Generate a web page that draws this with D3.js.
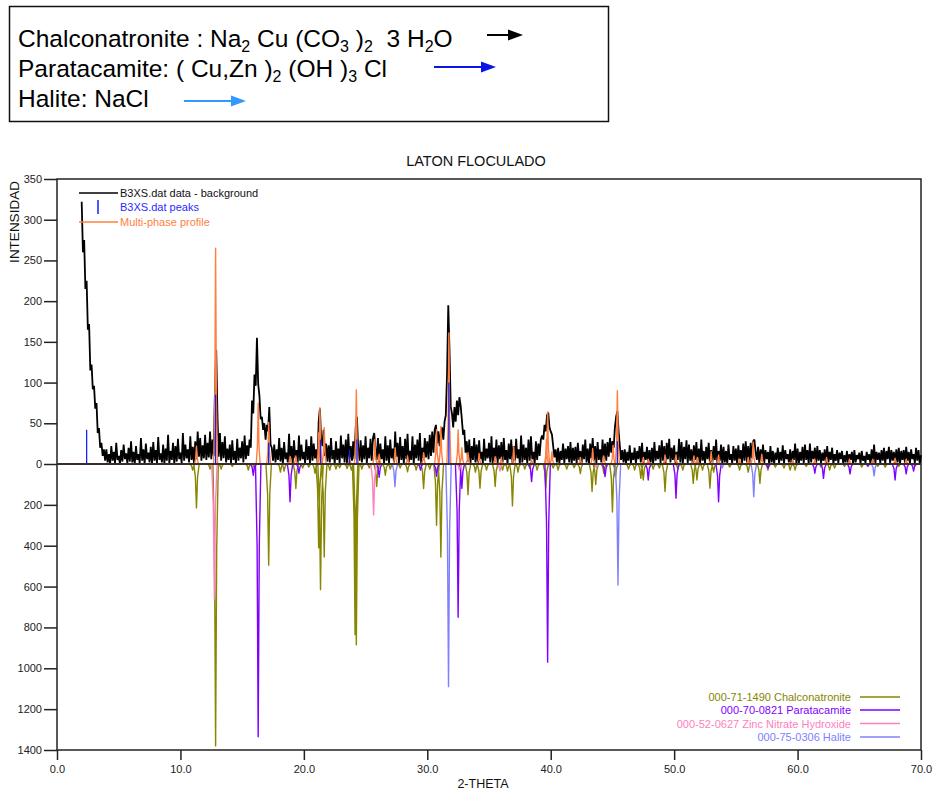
<!DOCTYPE html>
<html>
<head>
<meta charset="utf-8">
<script src="https://cdn.jsdelivr.net/npm/d3@7"></script>
<style>
  body { margin: 0; background: #fff; }
  svg text { font-family: "Liberation Sans", Arial, Helvetica, sans-serif; }
</style>
</head>
<body>
<svg id="chart" width="936" height="794"></svg>
<script>
// ---- measured pattern (data - background), 2-theta from 2.0 in 0.1 steps ----
const thetaStart = 2.0;
const thetaStep = 0.1;
const measured = [
  322,260,275,215,225,165,172,115,122,92,96,68,75,38,44,20,26,10,18,4,
  18,2,12,0,22,4,15,1,26,5,10,0,17,3,24,6,13,1,20,3,
  28,2,15,0,22,5,12,1,32,4,18,0,25,6,14,2,21,0,27,4,
  17,1,33,5,13,2,24,0,19,4,36,1,16,5,26,0,22,3,31,6,
  14,1,38,4,24,7,18,2,34,5,21,0,28,6,40,9,32,4,23,7,
  36,5,26,8,40,6,30,10,95,140,60,9,38,4,27,7,34,2,19,5,
  24,1,29,5,16,0,31,4,20,7,28,2,35,6,23,10,30,20,78,62,
  110,96,155,98,84,55,58,42,50,30,48,40,70,24,20,4,24,2,18,5,
  32,3,20,0,27,6,14,2,37,5,22,1,29,7,17,0,35,4,24,6,
  15,1,30,5,22,0,34,4,25,7,18,2,52,68,30,22,42,10,25,3,
  23,2,32,6,17,0,28,5,19,1,35,7,24,2,30,0,37,6,22,4,
  28,6,45,58,20,4,29,2,23,6,34,1,20,7,31,4,32,38,18,5,
  32,2,25,6,18,0,34,4,23,1,30,7,19,2,40,9,26,0,33,5,
  22,1,31,6,37,2,16,5,34,0,24,7,30,4,38,1,20,6,32,8,
  28,6,36,10,40,14,42,48,25,40,22,38,45,30,52,60,110,195,140,70,
  62,45,70,52,78,60,82,72,55,36,42,14,28,3,30,1,22,5,32,2,
  24,0,29,6,15,1,31,4,19,7,26,2,34,0,20,5,30,1,23,6,
  27,2,32,5,17,0,25,6,30,1,22,4,31,7,18,0,35,2,24,5,
  20,1,30,4,34,6,15,0,28,5,25,10,30,35,30,48,40,60,63,45,
  40,36,22,8,18,2,20,0,16,5,25,1,19,6,22,2,27,0,20,4,
  21,1,26,5,16,0,24,6,30,2,19,0,25,7,32,4,22,1,27,5,
  18,2,30,6,25,4,27,9,32,14,28,20,45,58,65,40,22,5,17,2,
  18,0,15,4,23,1,14,5,20,0,16,6,22,2,26,0,15,5,21,1,
  17,2,20,0,27,4,16,6,23,1,29,4,22,0,26,6,31,2,20,5,
  23,1,15,5,31,2,27,0,21,6,29,1,24,4,18,0,23,5,27,2,
  19,0,30,4,16,1,21,6,26,0,17,2,22,5,30,1,16,4,24,0,
  21,2,16,0,24,5,12,1,22,4,19,0,23,6,17,1,25,4,28,2,
  22,1,26,7,28,30,15,5,21,0,18,4,24,1,17,6,15,0,22,2,
  16,0,14,5,20,1,15,4,23,0,17,6,12,2,18,0,16,5,25,1,
  19,0,15,4,21,1,24,5,17,0,25,2,16,6,20,0,22,4,17,1,
  14,4,18,0,22,2,15,5,20,0,12,4,17,1,14,6,16,0,11,2,
  16,1,12,5,15,0,17,2,11,6,14,0,16,4,10,1,15,5,12,0,
  18,2,24,0,15,5,14,1,17,4,20,0,16,6,21,1,17,4,15,0,
  18,2,20,0,16,5,17,1,21,4,15,0,18,6,12,1,20,4,17,0,
  11
];

// ---- fitted multi-phase profile: [2-theta, intensity] ----
const profilePeaks = [
  [11.3,22],[12.85,265],[16.3,75],[17.15,51],[18.9,9],[19.35,10],[21.2,38],[21.3,69],
  [21.65,45],[23.7,8],[24.25,91],[25.75,30],[26.1,12],[27.4,20],[28.4,10],[29.7,14],
  [30.75,42],[31.1,46],[31.75,161],[32.5,42],[32.8,20],[33.3,14],[34.2,13],[35.5,9],
  [36.0,8],[37.0,21],[38.45,6],[39.65,30],[39.75,64],[40.1,15],[42.4,8],[43.4,19],
  [44.3,10],[45.05,23],[45.4,90],[47.5,8],[47.9,6],[49.26,11],[50.15,11],[51.6,10],
  [51.9,8],[53.0,15],[53.6,11],[55.3,6],[56.0,8],[56.4,27],[57.1,12],[59.6,6],
  [61.4,6],[62.35,8],[64.2,6],[66.1,6],[67.9,7],[68.8,6]
];

// ---- located peaks: [2-theta, intensity] ----
const peakSticks = [
  [2.4,42],[12.85,85],[17.15,26],[21.35,30],[23.7,17],[24.3,30],[31.75,100],[45.4,28]
];

// ---- reference patterns (drawn downward): [2-theta, intensity] ----
const chalconatronite = [
  [10.99,30],[11.3,215],[12.4,25],[12.85,1380],[13.3,25],[14.2,12],[15.5,30],[16.0,20],
  [17.15,495],[18.1,40],[18.4,35],[19.35,120],[19.9,20],[20.4,15],[20.9,45],[21.2,410],
  [21.35,615],[21.65,455],[22.1,30],[22.6,25],[22.9,18],[23.5,22],[23.85,30],[24.15,835],
  [24.25,885],[24.7,25],[25.3,20],[25.9,110],[26.6,55],[27.0,25],[27.8,20],[28.4,38],
  [29.1,30],[29.7,120],[30.2,25],[30.75,300],[31.1,455],[33.3,150],[33.9,40],[34.27,118],
  [34.8,30],[35.5,110],[36.1,30],[36.5,35],[36.9,205],[37.35,40],[37.9,25],[38.3,20],
  [38.9,30],[39.6,118],[40.2,20],[40.6,30],[41.3,25],[41.9,18],[42.4,47],[43.35,135],
  [43.65,100],[44.3,45],[45.0,235],[45.25,62],[46.3,25],[46.8,30],[47.3,70],[47.5,78],
  [48.3,25],[48.8,20],[49.26,135],[50.3,25],[50.7,30],[51.55,95],[51.85,78],[52.3,30],
  [52.9,118],[53.2,40],[54.5,15],[55.3,30],[56.0,40],[56.95,95],[57.6,30],[58.2,15],
  [58.9,20],[59.4,30],[59.8,30],[60.7,12],[61.9,15],[62.6,30],[63.0,20],[63.8,12],
  [65.2,15],[66.5,12],[67.1,15],[68.2,12],[69.5,10]
];
const paratacamite = [
  [15.9,55],[16.3,1335],[18.88,185],[19.6,45],[26.1,65],[29.45,30],[30.75,60],[32.5,750],
  [32.8,120],[38.45,86],[39.75,970],[44.4,62],[47.9,78],[50.15,168],[53.6,185],[57.6,20],
  [61.4,45],[62.1,70],[64.25,48],[65.7,12],[67.9,78],[68.8,48],[69.4,35]
];
const zincNitrateHydroxide = [
  [12.75,660],[25.65,250],[32.6,30],[35.9,35],[43.7,20]
];
const halite = [
  [27.38,111],[31.72,1090],[45.45,592],[53.9,18],[56.45,160],[66.2,58]
];

const phaseNames = [
  "000-71-1490 Chalconatronite",
  "000-70-0821 Paratacamite",
  "000-52-0627 Zinc Nitrate Hydroxide",
  "000-75-0306 Halite"
];
const phaseColors = ["#868600", "#8000ff", "#ff80c0", "#8080ff"];
const phaseData = [chalconatronite, paratacamite, zincNitrateHydroxide, halite];

const xTicks = [0, 10, 20, 30, 40, 50, 60, 70];
const upperTicks = [0, 50, 100, 150, 200, 250, 300, 350];
const lowerTicks = [200, 400, 600, 800, 1000, 1200, 1400];

// ---- scales ----
const svg = d3.select("#chart");
const x = d3.scaleLinear().domain([0, 70]).range([57, 921]);
const yUp = d3.scaleLinear().domain([0, 350]).range([464, 179]);
const yDown = d3.scaleLinear().domain([0, 1400]).range([464, 750]);

// a peak list becomes one continuous trace of narrow spikes
function spikeTrace(peaks, halfWidth) {
  const pts = [[0, 0]];
  peaks.slice().sort((a, b) => a[0] - b[0]).forEach(([p, h]) => {
    pts.push([p - halfWidth, 0], [p - halfWidth * 0.4, h * 0.3], [p, h],
             [p + halfWidth * 0.4, h * 0.3], [p + halfWidth, 0]);
  });
  pts.push([70, 0]);
  return pts;
}

// ---- formula box ----
const formulas = [
  { y: 47, parts: ["Chalconatronite : Na", ["2"], " Cu (CO", ["3"], " )", ["2"], "  3 H", ["2"], "O"],
    arrow: [487, 523, 35], color: "#000000" },
  { y: 77, parts: ["Paratacamite: ( Cu,Zn )", ["2"], " (OH )", ["3"], " Cl"],
    arrow: [434, 496, 67], color: "#0a14e6" },
  { y: 107, parts: ["Halite: NaCl"],
    arrow: [184, 246, 101], color: "#3399ff" }
];
const box = svg.append("g");
box.append("rect").attr("x", 9.5).attr("y", 6.5).attr("width", 599).attr("height", 115)
  .attr("fill", "none").attr("stroke", "#111").attr("stroke-width", 1.5);
formulas.forEach(f => {
  const t = box.append("text").attr("x", 18).attr("y", f.y)
    .attr("font-size", 24.5).attr("fill", "#000").style("white-space", "pre");
  let low = false;
  f.parts.forEach(p => {
    if (Array.isArray(p)) {
      t.append("tspan").attr("font-size", 16).attr("dy", low ? 0 : 5).text(p[0]);
      low = true;
    } else {
      t.append("tspan").attr("dy", low ? -5 : 0).text(p);
      low = false;
    }
  });
  const [x0, x1, ay] = f.arrow;
  box.append("line").attr("x1", x0).attr("x2", x1 - 12).attr("y1", ay).attr("y2", ay)
    .attr("stroke", f.color).attr("stroke-width", 2);
  box.append("path")
    .attr("d", `M${x1 - 15},${ay - 5.5} L${x1},${ay} L${x1 - 15},${ay + 5.5} Z`)
    .attr("fill", f.color);
});

// ---- titles ----
svg.append("text").attr("x", 476).attr("y", 166).attr("text-anchor", "middle")
  .attr("font-size", 14.5).attr("fill", "#111").text("LATON FLOCULADO");
svg.append("text").attr("x", 483).attr("y", 788).attr("text-anchor", "middle")
  .attr("font-size", 12.5).attr("fill", "#111").text("2-THETA");
svg.append("text").attr("transform", "translate(19,222) rotate(-90)").attr("text-anchor", "middle")
  .attr("font-size", 13.5).attr("fill", "#111").text("INTENSIDAD");

// ---- axes ----
const axUp = svg.append("g").attr("transform", "translate(57,0)")
  .call(d3.axisLeft(yUp).tickValues(upperTicks).tickFormat(d3.format("d")).tickSize(13).tickPadding(2));
const axDown = svg.append("g").attr("transform", "translate(57,0)")
  .call(d3.axisLeft(yDown).tickValues(lowerTicks).tickFormat(d3.format("d")).tickSize(13).tickPadding(2));
const axX = svg.append("g").attr("transform", "translate(0,750)")
  .call(d3.axisBottom(x).tickValues(xTicks).tickFormat(d3.format(".1f")).tickSize(10).tickPadding(5));
[axUp, axDown, axX].forEach(a => {
  a.select(".domain").remove();
  a.selectAll(".tick line").attr("stroke", "#222").attr("stroke-width", 1.5);
  a.selectAll(".tick text").attr("font-size", 11).attr("fill", "#222")
    .attr("font-family", "\"Liberation Sans\", Arial, sans-serif");
});

// frame
svg.append("rect").attr("x", 57).attr("y", 179).attr("width", 864).attr("height", 571)
  .attr("fill", "none").attr("stroke", "#222").attr("stroke-width", 1.5);

// ---- reference patterns below zero ----
const lineDown = d3.line().x(d => x(d[0])).y(d => yDown(d[1]));
phaseData.forEach((peaks, i) => {
  svg.append("path").attr("d", lineDown(spikeTrace(peaks, 0.22)))
    .attr("fill", "none").attr("stroke", phaseColors[i]).attr("stroke-width", 1.4)
    .attr("stroke-linejoin", "round");
});

// ---- measured trace ----
const lineUp = d3.line().x(d => x(d[0])).y(d => yUp(d[1]));
const measuredPts = measured.map((v, i) => [thetaStart + i * thetaStep, v]);
svg.append("path").attr("d", lineUp(measuredPts))
  .attr("fill", "none").attr("stroke", "#000").attr("stroke-width", 1.8)
  .attr("stroke-linejoin", "bevel");

// ---- fitted profile ----
svg.append("path").attr("d", lineUp(spikeTrace(profilePeaks, 0.16)))
  .attr("fill", "none").attr("stroke", "#ff7f40").attr("stroke-width", 1.4)
  .attr("stroke-linejoin", "round");

// ---- peak sticks ----
svg.append("g").selectAll("line").data(peakSticks).join("line")
  .attr("x1", d => x(d[0])).attr("x2", d => x(d[0]))
  .attr("y1", yUp(0)).attr("y2", d => yUp(d[1]))
  .attr("stroke", "#1020ff").attr("stroke-width", 1.3);

// zero line
svg.append("line").attr("x1", 57).attr("x2", 921).attr("y1", yUp(0)).attr("y2", yUp(0))
  .attr("stroke", "#3a2c2c").attr("stroke-width", 2);

// ---- legend (upper) ----
const lg = svg.append("g").attr("font-size", 11);
lg.append("line").attr("x1", 79).attr("x2", 118).attr("y1", 193).attr("y2", 193)
  .attr("stroke", "#000").attr("stroke-width", 1.5);
lg.append("text").attr("x", 120).attr("y", 197).attr("fill", "#111").text("B3XS.dat data - background");
lg.append("line").attr("x1", 98).attr("x2", 98).attr("y1", 200).attr("y2", 214)
  .attr("stroke", "#1020ff").attr("stroke-width", 1.5);
lg.append("text").attr("x", 120).attr("y", 211).attr("fill", "#2a2aff").text("B3XS.dat peaks");
lg.append("line").attr("x1", 79).attr("x2", 118).attr("y1", 222).attr("y2", 222)
  .attr("stroke", "#ff7f40").attr("stroke-width", 1.5);
lg.append("text").attr("x", 120).attr("y", 226).attr("fill", "#ff7f40").text("Multi-phase profile");

// ---- legend (reference patterns) ----
const legendRows = [697, 710, 723.5, 737];
phaseNames.forEach((name, i) => {
  lg.append("text").attr("x", 851).attr("y", legendRows[i] + 4).attr("text-anchor", "end")
    .attr("fill", phaseColors[i]).text(name);
  lg.append("line").attr("x1", 860).attr("x2", 900).attr("y1", legendRows[i]).attr("y2", legendRows[i])
    .attr("stroke", phaseColors[i]).attr("stroke-width", 1.5);
});
</script>
</body>
</html>
